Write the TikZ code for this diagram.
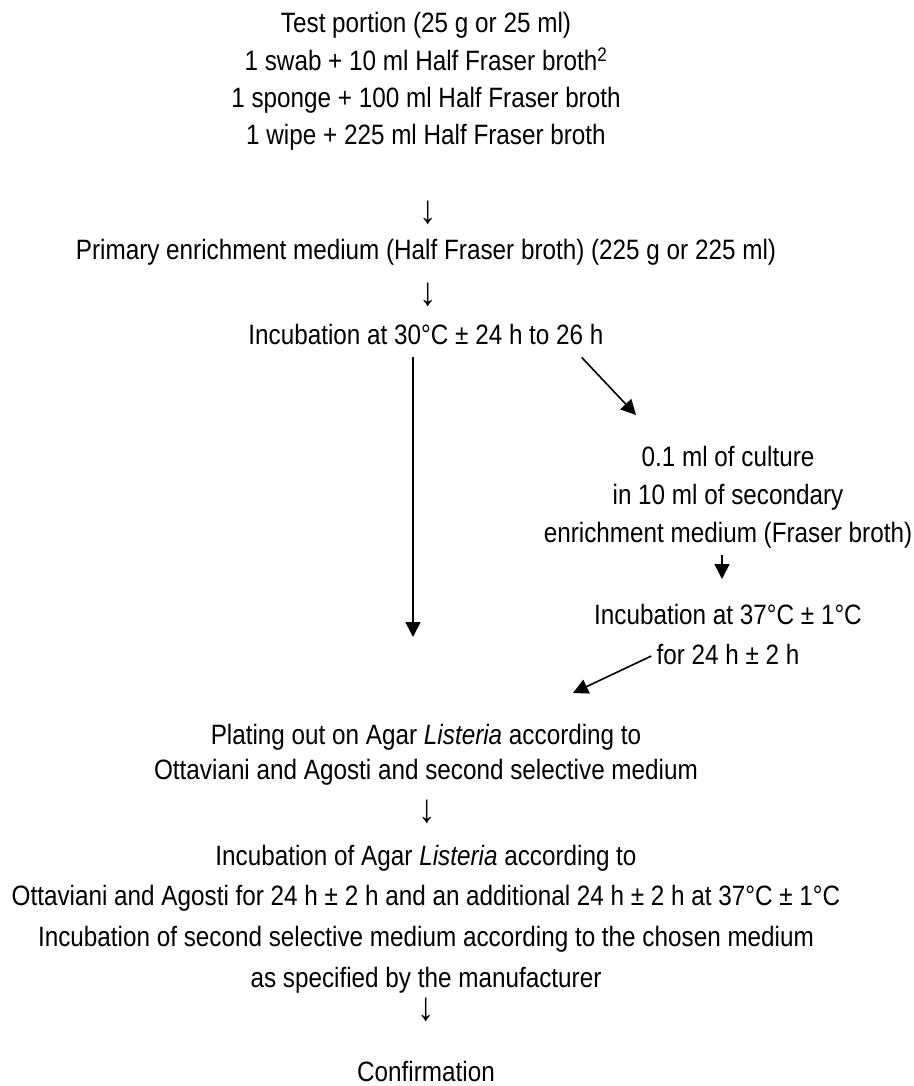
\documentclass[tikz,border=0pt]{standalone}
\usepackage{fontspec}
\setmainfont[FakeStretch=0.867]{Liberation Sans}
\usetikzlibrary{arrows.meta,calc}
\begin{document}
\begin{tikzpicture}[x=1pt,y=1pt,
  txt/.style={inner sep=0pt, align=center, anchor=north, font=\fontsize{28}{38}\selectfont},
  dn/.style={inner sep=0pt, font=\fontsize{40}{42}\selectfont},
  arr/.style={line width=1.6pt, -{Triangle[length=15pt,width=15pt]}}]
\fill[white] (0,0) rectangle (913,-1086);
\useasboundingbox (0,0) rectangle (913,-1086);

\node[txt, font=\fontsize{28}{37.3}\selectfont] (test) at (426,-12.5)
  {Test portion (25 g or 25 ml)\\1 swab + 10 ml Half Fraser broth\textsuperscript{2}\\1 sponge + 100 ml Half Fraser broth\\1 wipe + 225 ml Half Fraser broth};
\node[dn] (a1) at (428,-213) {↓};
\node[txt] (prim) at (426,-239.5) {Primary enrichment medium (Half Fraser broth) (225 g or 225 ml)};
\node[dn] (a2) at (428,-295) {↓};
\node[txt] (inc30) at (426,-324.5) {Incubation at 30°C ± 24 h to 26 h};

\node[txt, font=\fontsize{28}{38}\selectfont] (cult) at (728,-446.5)
  {0.1 ml of culture\\in 10 ml of secondary\\enrichment medium (Fraser broth)};
\node[txt] (inc37a) at (728,-604.5) {Incubation at 37°C ± 1°C};
\node[txt] (inc37b) at (728,-644.5) {for 24 h ± 2 h};

\node[txt, font=\fontsize{28}{35}\selectfont] (plate) at (426,-724.5)
  {Plating out on Agar \textit{Listeria} according to\\Ottaviani and Agosti and second selective medium};
\node[dn] (a3) at (427,-812) {↓};
\node[txt, font=\fontsize{28}{40.7}\selectfont] (incag) at (426,-844.5)
  {Incubation of Agar \textit{Listeria} according to\\Ottaviani and Agosti for 24 h ± 2 h and an additional 24 h ± 2 h at 37°C ± 1°C\\Incubation of second selective medium according to the chosen medium\\as specified by the manufacturer};
\node[dn] (a4) at (426,-1010) {↓};
\node[txt] (conf) at (426,-1061) {Confirmation};

\coordinate (vEnd) at (413,-637);
\coordinate (d1e) at (636,-415);
\coordinate (s2e) at (722,-579);
\coordinate (d2e) at (573,-693);

\draw[arr] ($(inc30.south -| vEnd)+(0,-12)$) -- (vEnd);
\draw[arr] ($(inc30.south east)+(-22,-12)$) -- (d1e);
\draw[arr] ($(cult.south)+(-6,-6)$) -- (s2e);
\draw[arr] ($(inc37b.west)+(-5,-1)$) -- (d2e);
\end{tikzpicture}
\end{document}
